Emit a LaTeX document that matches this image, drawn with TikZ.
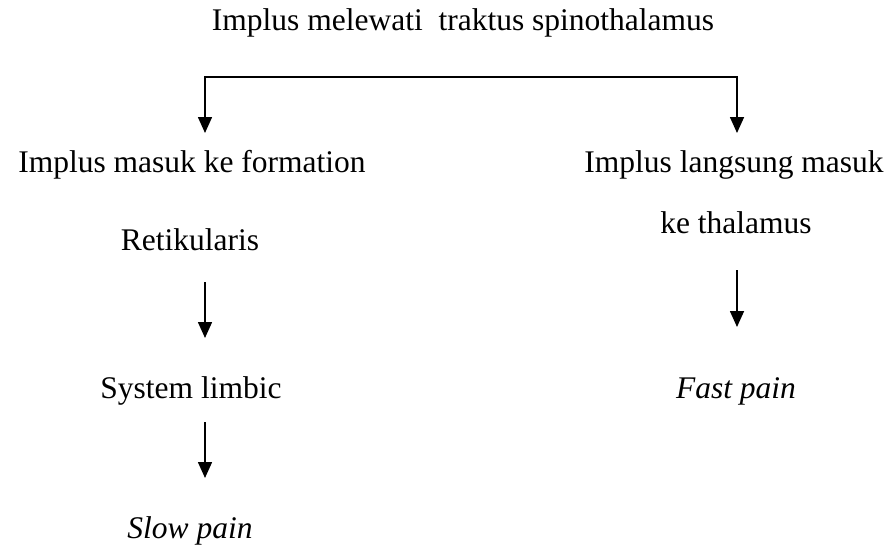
\documentclass[tikz,border=0pt]{standalone}
\usepackage{fontspec}
\setmainfont{Liberation Serif}
\usetikzlibrary{arrows.meta}
\begin{document}
\begin{tikzpicture}[x=1pt,y=-1pt,
  lbl/.style={inner sep=0pt,anchor=base,font=\fontsize{31.5}{38}\selectfont},
  arr/.style={line width=1.6pt,-{Triangle[width=14pt,length=16pt]}},
  ln/.style={line width=1.6pt}]
\useasboundingbox (0,0) rectangle (894,554);
% texts
\node[lbl] (title) at (463,30) {Implus melewati\ \ traktus spinothalamus};
\node[lbl] (la) at (192,172) {Implus masuk ke formation};
\node[lbl] (ra) at (734,172) {Implus langsung masuk};
\node[lbl] (lb) at (190,250) {Retikularis};
\node[lbl] (rb) at (736,233) {ke thalamus};
\node[lbl] (lc) at (191,398) {System limbic};
\node[lbl] (rc) at (736,398) {\itshape Fast pain};
\node[lbl] (ld) at (190,538) {\itshape Slow pain};
% connector points
\coordinate (bl) at (205,77);
\coordinate (br) at (737,77);
\coordinate (blt) at (205,133);
\coordinate (brt) at (737,133);
\coordinate (a1s) at (205,282);
\coordinate (a1e) at (205,338);
\coordinate (a2s) at (205,422);
\coordinate (a2e) at (205,478);
\coordinate (a3s) at (737,270);
\coordinate (a3e) at (737,327);
% connectors
\draw[ln,line join=miter] (blt) ++(0,-16) -- (bl) -- (br) -- ++(0,40);
\draw[arr] (bl) -- (blt);
\draw[arr] (br) -- (brt);
\draw[arr] (a1s) -- (a1e);
\draw[arr] (a2s) -- (a2e);
\draw[arr] (a3s) -- (a3e);
\end{tikzpicture}
\end{document}
